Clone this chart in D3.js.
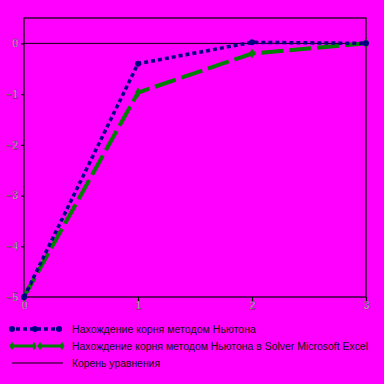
<!DOCTYPE html>
<html>
<head>
<meta charset="UTF-8">
<script src="https://d3js.org/d3.v7.min.js"></script>
<style>
  body { margin: 0; background: #ff00ff; }
  text { font-family: "Liberation Sans", Arial, sans-serif; }
</style>
</head>
<body>
<div id="chart"></div>
<script>
    // data
    const xValues = [0, 1, 2, 3];
    const newton = [-5, -0.40, 0.02, 0];
    const newtonExcel = [-5, -0.97, -0.20, 0];
    const rootLine = [0, 0];
    const yTicks = [0, -1, -2, -3, -4, -5];
    const labels = [
        "Нахождение корня методом Ньютона",
        "Нахождение корня методом Ньютона в Solver Microsoft Excel",
        "Корень уравнения"
    ];

    const W = 384, H = 384;
    const margin = {top: 18, right: 18, bottom: 87, left: 24},
        width = W - margin.left - margin.right,
        height = H - margin.top - margin.bottom;

    const svg = d3.select("#chart")
        .append("svg")
        .attr("width", W)
        .attr("height", H)
        .style("background", "#ff00ff");

    const g = svg.append("g")
        .attr("transform", `translate(${margin.left},${margin.top})`);

    const x = d3.scaleLinear().domain([0, 3]).range([0, width]);
    const y = d3.scaleLinear().domain([-5, 0.5]).range([height, 0]);

    // frame
    g.append("rect")
        .attr("width", width).attr("height", height)
        .attr("fill", "none").attr("stroke", "#000").attr("stroke-width", 1.2);

    // axes
    const yAxis = g.append("g")
        .call(d3.axisLeft(y).tickValues(yTicks).tickSize(3).tickSizeOuter(0).tickFormat(d3.format("d")));
    const xAxis = g.append("g")
        .attr("transform", `translate(0,${height})`)
        .call(d3.axisBottom(x).tickValues(xValues).tickSize(4).tickSizeOuter(0).tickFormat(d3.format("d")));
    [yAxis, xAxis].forEach(a => {
        a.select(".domain").remove();
        a.selectAll("line").attr("stroke", "#000").attr("stroke-width", 1.2);
        a.selectAll("text")
            .style("font-size", "10px")
            .attr("fill", "#fff")
            .attr("stroke", "#000")
            .attr("stroke-width", 0.3);
    });
    yAxis.selectAll("text").attr("x", -6);
    xAxis.selectAll("text").attr("y", 5);

    // root line
    g.append("line")
        .attr("x1", x(0)).attr("x2", x(3))
        .attr("y1", y(rootLine[0])).attr("y2", y(rootLine[1]))
        .attr("stroke", "#000").attr("stroke-width", 1);

    const line = d3.line().x((d, i) => x(xValues[i])).y(d => y(d));

    // green excel series
    g.append("path")
        .datum(newtonExcel)
        .attr("d", line)
        .attr("fill", "none")
        .attr("stroke", "#008000")
        .attr("stroke-width", 4)
        .attr("stroke-dasharray", "22,6");
    g.selectAll(".gm")
        .data(newtonExcel)
        .join("path")
        .attr("transform", (d, i) => `translate(${x(xValues[i])},${y(d)})`)
        .attr("d", d3.symbol(d3.symbolDiamond, 30))
        .attr("fill", "#008000");

    // blue newton series
    g.append("path")
        .datum(newton)
        .attr("d", line)
        .attr("fill", "none")
        .attr("stroke", "#000080")
        .attr("stroke-width", 3.5)
        .attr("stroke-dasharray", "4,3");
    g.selectAll(".bm")
        .data(newton)
        .join("circle")
        .attr("cx", (d, i) => x(xValues[i]))
        .attr("cy", d => y(d))
        .attr("r", 3)
        .attr("fill", "#000080");

    // legend
    const leg = svg.append("g");
    const rows = [329, 346, 363];

    // row 1
    leg.append("line")
        .attr("x1", 9).attr("x2", 62).attr("y1", rows[0]).attr("y2", rows[0])
        .attr("stroke", "#000080").attr("stroke-width", 3.5).attr("stroke-dasharray", "4,3");
    leg.selectAll(".lb").data([12, 35, 59]).join("circle")
        .attr("cx", d => d).attr("cy", rows[0]).attr("r", 3).attr("fill", "#000080");
    // row 2
    leg.append("line")
        .attr("x1", 10).attr("x2", 64).attr("y1", rows[1]).attr("y2", rows[1])
        .attr("stroke", "#008000").attr("stroke-width", 3).attr("stroke-dasharray", "22,8");
    leg.selectAll(".lg").data([12, 34, 40, 62]).join("path")
        .attr("transform", d => `translate(${d},${rows[1]})`)
        .attr("d", d3.symbol(d3.symbolDiamond, 22))
        .attr("fill", "#008000");
    // row 3
    leg.append("line")
        .attr("x1", 12).attr("x2", 63).attr("y1", rows[2]).attr("y2", rows[2])
        .attr("stroke", "#000").attr("stroke-width", 1);

    const textWidths = [184, 296, 88];
    leg.selectAll(".lt").data(labels).join("text")
        .attr("x", 72)
        .attr("y", (d, i) => rows[i] + 3.5)
        .attr("textLength", (d, i) => textWidths[i])
        .attr("lengthAdjust", "spacingAndGlyphs")
        .style("font-size", "10px")
        .attr("fill", "#111")
        .text(d => d);
</script>
</body>
</html>
